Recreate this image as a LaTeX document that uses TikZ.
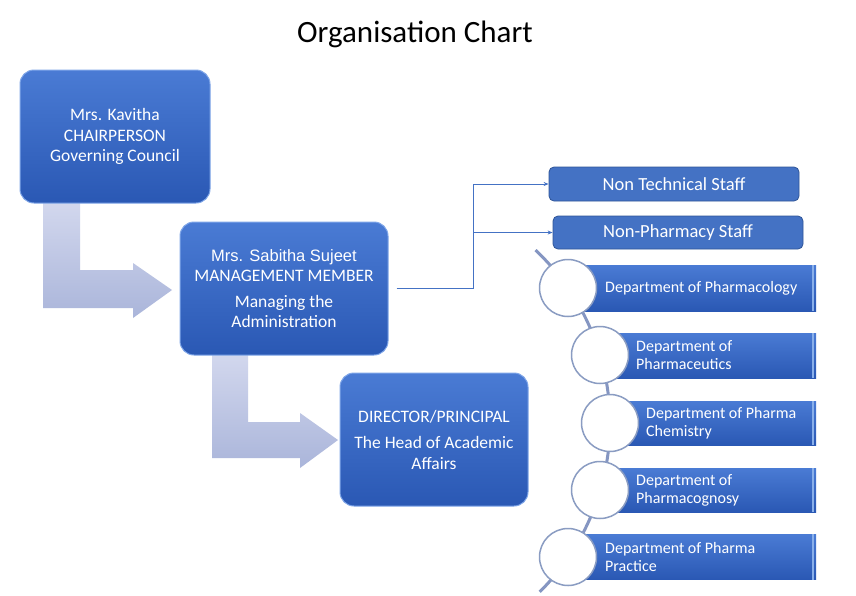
\documentclass[tikz,border=0pt]{standalone}
\usepackage{fontspec}
\setmainfont{Carlito}
\newfontfamily\arialf{Liberation Sans}
\usetikzlibrary{arrows.meta}
\definecolor{btop}{HTML}{4A7BD4}
\definecolor{bbot}{HTML}{2A58B4}
\definecolor{bedge}{HTML}{7FA6E8}
\definecolor{flat}{HTML}{4472C4}
\definecolor{flatedge}{HTML}{2F5597}
\definecolor{arrtop}{HTML}{D3D8EE}
\definecolor{arrbot}{HTML}{AAB5DA}
\definecolor{ringc}{HTML}{8A9CC2}
\definecolor{curvec}{HTML}{8596C2}
\definecolor{stripec}{HTML}{8AB0EA}
\tikzset{
  mainbox/.style={rounded corners=14pt, top color=btop, bottom color=bbot, draw=bedge, line width=1pt,
    text=white, align=center, font=\fontsize{17.5}{20.5}\selectfont, inner sep=0pt},
  staffbox/.style={rounded corners=5pt, fill=flat, draw=flatedge, line width=0.8pt, text=white,
    minimum width=250pt, font=\fontsize{18.5}{21}\selectfont, inner sep=0pt},
  deptbox/.style={top color=btop, bottom color=bbot, draw=none, inner sep=0pt},
  depttext/.style={text=white, align=left, anchor=west, inner sep=0pt, font=\fontsize{16}{18}\selectfont},
  ring/.style={circle, fill=white, draw=ringc, line width=1.5pt, minimum size=57pt, inner sep=0pt},
  bentarrow/.style={top color=arrtop, bottom color=arrbot, draw=none},
  conn/.style={draw=flat, line width=0.9pt, -{Stealth[length=5pt,width=4pt]}},
  curveline/.style={draw=curvec, line width=3pt}
}
\begin{document}
\begin{tikzpicture}[x=1pt,y=-1pt]
\useasboundingbox[fill=white] (0,0) rectangle (856,595);

\node (title) at (415,34) {\fontsize{31}{35}\selectfont Organisation Chart};

% bent arrows
\path[bentarrow] (43,200) -- (80,200) -- (80,270) -- (133,270) -- (133,263) -- (172,290) -- (133,318) -- (133,308) -- (43,308) -- cycle;
\path[bentarrow] (212,352) -- (248,352) -- (248,422) -- (300,422) -- (300,413) -- (338,440) -- (300,468) -- (300,458) -- (212,458) -- cycle;

% main boxes
\node[mainbox, minimum width=190pt, minimum height=133pt] (k) at (115,136.5)
  {Mrs. Kavitha\\CHAIRPERSON\\Governing Council};
\node[mainbox, minimum width=208pt, minimum height=133pt] (s) at (284,288.5)
  {{\arialf\fontsize{16.5}{20}\selectfont Mrs. Sabitha Sujeet}\\MANAGEMENT MEMBER\\[5pt]Managing the\\Administration};
\node[mainbox, minimum width=188pt, minimum height=133pt] (d) at (434,439.5)
  {DIRECTOR/PRINCIPAL\\[6pt]The Head of Academic\\Affairs};

% staff boxes
\node[staffbox, minimum height=34pt] (nt) at (674,184) {Non Technical Staff};
\node[staffbox, minimum height=33pt] (np) at (678,232.5) {Non-Pharmacy Staff};

\coordinate (j) at ([xshift=85pt]s.east);
\draw[conn] ([xshift=8pt]s.east) -- (j) |- (nt.west);
\draw[conn] (j) |- (np.west);

% curved spine
\draw[curveline] (372,423) ++(-46.6:238) arc[start angle=-46.6, end angle=45.2, radius=238];

% department bars
\node[deptbox, minimum width=248pt, minimum height=46pt] (d1) at (692,288) {};
\node[deptbox, minimum width=216pt, minimum height=45pt] (d2) at (708,355.5) {};
\node[deptbox, minimum width=206pt, minimum height=44pt] (d3) at (713,423) {};
\node[deptbox, minimum width=216pt, minimum height=44pt] (d4) at (708,490) {};
\node[deptbox, minimum width=248pt, minimum height=45pt] (d5) at (692,557) {};
\foreach \n in {d1,d2,d3,d4,d5}{
  \fill[stripec] ([xshift=-4pt]\n.north east) rectangle ([xshift=-2pt]\n.south east);
}

% rings
\node[ring] (c1) at (568,288) {};
\node[ring] (c2) at (600,355) {};
\node[ring] (c3) at (610,423) {};
\node[ring] (c4) at (600,490) {};
\node[ring] (c5) at (568,557) {};

% department texts
\node[depttext] (t1) at (605,288) {Department of Pharmacology};
\node[depttext] (t2) at (636,355) {Department of\\Pharmaceutics};
\node[depttext] (t3) at (646,423) {Department of Pharma\\Chemistry};
\node[depttext] (t4) at (636,490) {Department of\\Pharmacognosy};
\node[depttext] (t5) at (605,557) {Department of Pharma\\Practice};
\end{tikzpicture}
\end{document}
